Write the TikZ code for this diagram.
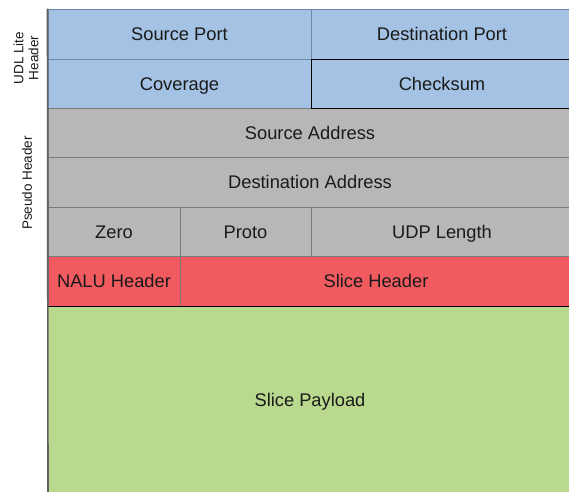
\documentclass[tikz,border=0pt]{standalone}
\usepackage{fontspec}
\setmainfont{Liberation Sans}
\definecolor{cblue}{HTML}{A4C2E4}
\definecolor{cbluel}{HTML}{6F87A6}
\definecolor{cgray}{HTML}{B7B7B7}
\definecolor{cgrayl}{HTML}{7A7A7A}
\definecolor{cred}{HTML}{F15B5F}
\definecolor{cgreen}{HTML}{B9D98F}
\definecolor{ctext}{HTML}{1A1A1A}
\tikzset{
  cell/.style={rectangle, inner sep=0pt, line width=1pt, text=ctext,
    text height=13.1pt, text depth=0pt,
    font=\fontsize{18.3}{21}\selectfont},
  bluecell/.style={cell, fill=cblue, draw=cbluel},
  graycell/.style={cell, fill=cgray, draw=cgrayl},
  redcell/.style={cell, fill=cred, draw=cgrayl},
  greencell/.style={cell, fill=cgreen, draw=none},
  sidelabel/.style={rotate=90, align=center, text=ctext, inner sep=0pt,
    font=\fontsize{13.5}{15}\selectfont}
}
\begin{document}
\begin{tikzpicture}[x=1pt,y=-1pt]
\useasboundingbox (0,0) rectangle (569,491);
\clip (0,0) rectangle (569,491);
\fill[white] (0,0) rectangle (569,491);
% UDL Lite header
\node[bluecell, minimum width=263pt, minimum height=50pt] (sp) at (179.5,34) {Source Port};
\node[bluecell, minimum width=262pt, minimum height=50pt] (dp) at (442,34) {Destination Port};
\node[bluecell, minimum width=263pt, minimum height=49pt] (cov) at (179.5,83.5) {Coverage};
% pseudo header
\node[graycell, minimum width=524pt, minimum height=49pt] (sa) at (310,132.5) {Source Address};
\node[graycell, minimum width=524pt, minimum height=50pt] (da) at (310,182) {Destination Address};
\node[graycell, minimum width=132pt, minimum height=49pt] (zero) at (114,231.5) {Zero};
\node[graycell, minimum width=131pt, minimum height=49pt] (proto) at (245.5,231.5) {Proto};
\node[graycell, minimum width=262pt, minimum height=49pt] (udpl) at (442,231.5) {UDP Length};
% slice
\node[redcell, minimum width=132pt, minimum height=50pt] (nalu) at (114,281) {NALU Header};
\node[redcell, minimum width=392pt, minimum height=50pt] (slh) at (376,281) {Slice Header};
\node[greencell, minimum width=524pt, minimum height=188pt] (pay) at (310,400) {Slice Payload};
\node[bluecell, draw=black, minimum width=262pt, minimum height=49pt] (chk) at (442,83.5) {Checksum};
% strong lines
\draw[black, line width=1.2pt] (nalu.south west) -- (slh.south east);
\draw[cgrayl!80!black, line width=1.6pt] (sp.north west) -- (48,493);
% side labels
\node[sidelabel] (udl) at (26,58) {UDL Lite\\Header};
\node[sidelabel] (pseudo) at (27,183) {Pseudo Header};
\end{tikzpicture}
\end{document}
